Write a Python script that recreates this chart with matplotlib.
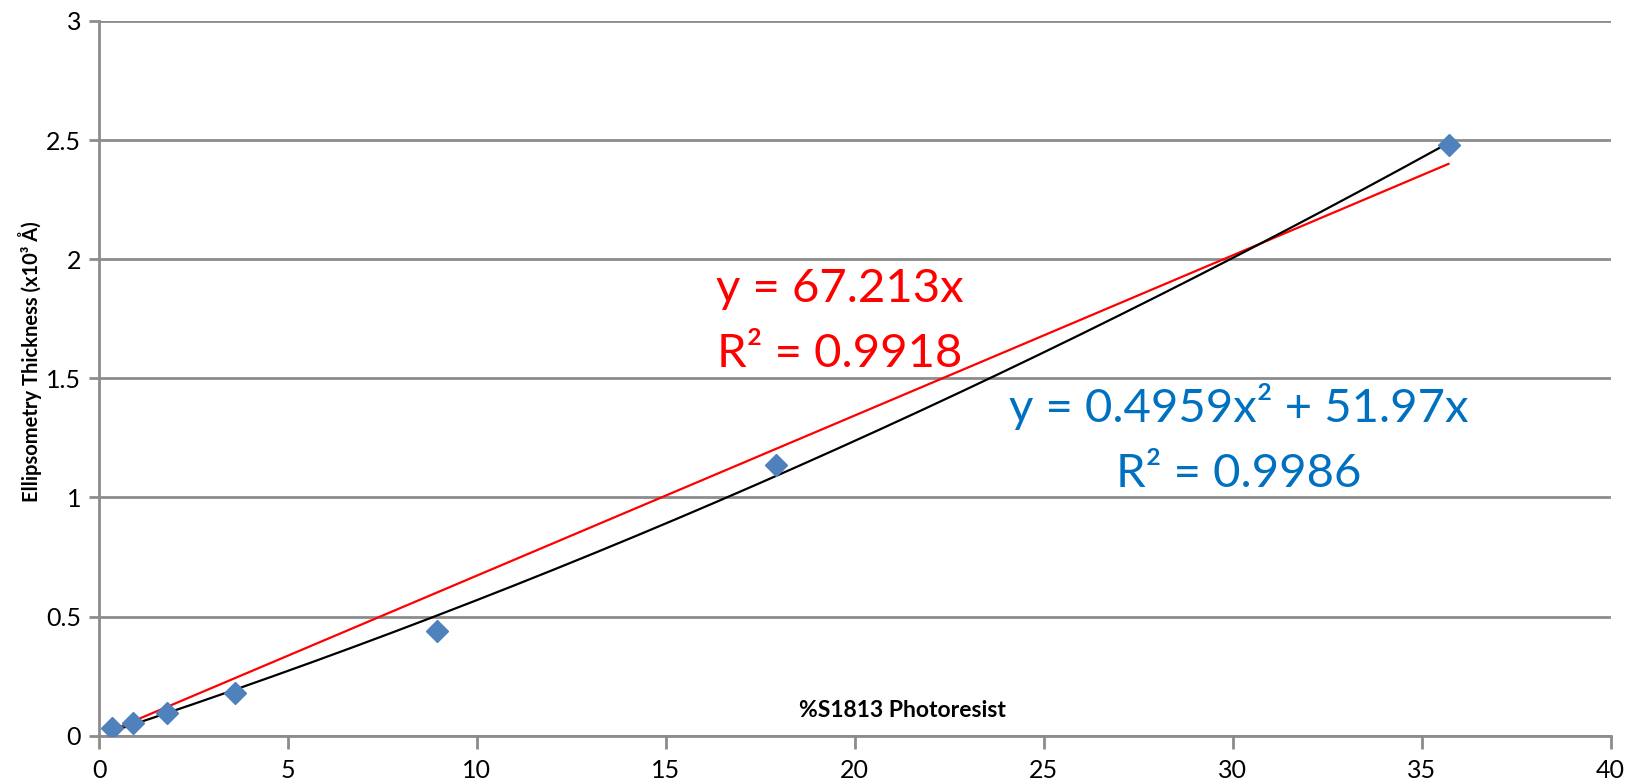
import matplotlib
matplotlib.use("Agg")
import matplotlib.pyplot as plt
import numpy as np

plt.rcParams['font.family'] = ['Lato', 'DejaVu Sans']

# % S1813 in solution vs measured film thickness (x10^3 A)
pct_s1813 = [0.35, 0.89, 1.80, 3.59, 8.94, 17.91, 35.71]
thickness = [0.034, 0.055, 0.097, 0.178, 0.441, 1.136, 2.48]

# trendline coefficients (in Angstrom)
lin_slope = 67.213
lin_r2 = 0.9918
poly_a = 0.4959
poly_b = 51.97
poly_r2 = 0.9986

xticks = [0, 5, 10, 15, 20, 25, 30, 35, 40]
yticks = [0, 0.5, 1, 1.5, 2, 2.5, 3]

axis_grey = '#8c8c8c'

fig = plt.figure(figsize=(16.32, 7.83), dpi=100)
ax = fig.add_axes([0.0607, 0.0604, 0.9262, 0.9128])

x = np.array(pct_s1813)
xf = np.linspace(x.min(), x.max(), 200)
ax.plot(xf, lin_slope * xf / 1000.0, color='#ff0000', lw=1.6, zorder=3)
ax.plot(xf, (poly_a * xf**2 + poly_b * xf) / 1000.0, color='black', lw=1.6, zorder=3)
ax.plot(pct_s1813, thickness, linestyle='none', marker='D', markersize=11,
        color='#4f81bd', markeredgecolor='#4f81bd', zorder=4)

ax.set_xlim(0, 40)
ax.set_ylim(0, 3)
ax.set_xticks(xticks)
ax.set_yticks(yticks)
ax.set_xticklabels([str(t) for t in xticks])
ax.set_yticklabels(['0', '0.5', '1', '1.5', '2', '2.5', '3'])
ax.yaxis.grid(True, color=axis_grey, lw=2)
ax.set_axisbelow(True)

for s in ['top', 'right']:
    ax.spines[s].set_visible(False)
for s in ['left', 'bottom']:
    ax.spines[s].set_color(axis_grey)
    ax.spines[s].set_linewidth(2)
ax.tick_params(axis='both', colors=axis_grey, labelcolor='black', labelsize=18,
               width=2, direction='out')
ax.tick_params(axis='y', length=7, pad=6)
ax.tick_params(axis='x', length=9, pad=8)

ax.set_ylabel('Ellipsometry Thickness (x10³ Å)', fontsize=14.5, fontweight='bold')
ax.yaxis.set_label_coords(-0.038, 0.523)
ax.text(21.27, 0.104, '%S1813 Photoresist', fontsize=16.5, fontweight='bold',
        ha='center', va='center')

ax.text(19.61, 1.821, 'y = %.3fx' % lin_slope, color='#ff0000', fontsize=34,
        ha='center', va='baseline')
ax.text(19.61, 1.548, 'R² = %.4f' % lin_r2, color='#ff0000', fontsize=34,
        ha='center', va='baseline')
ax.text(30.17, 1.317, 'y = %.4fx² + %.2fx' % (poly_a, poly_b), color='#0070c0',
        fontsize=34, ha='center', va='baseline')
ax.text(30.17, 1.044, 'R² = %.4f' % poly_r2, color='#0070c0', fontsize=34,
        ha='center', va='baseline')

fig.savefig('out.png', dpi=100)
